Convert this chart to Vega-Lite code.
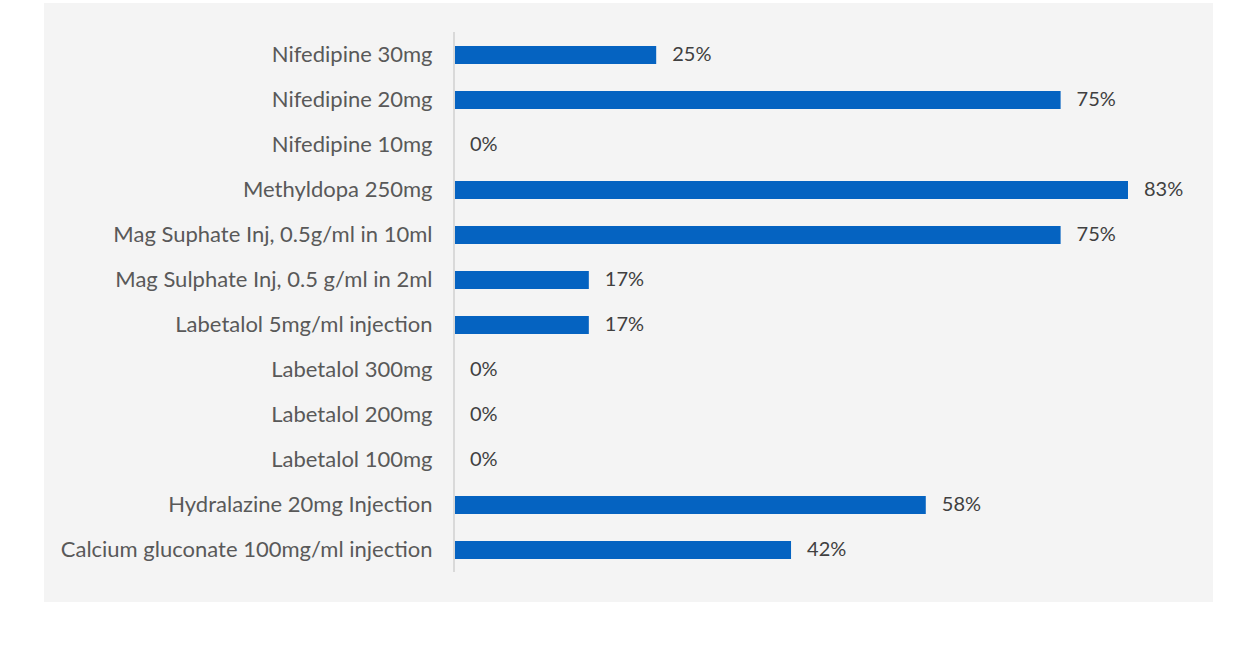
{
  "$schema": "https://vega.github.io/schema/vega-lite/v6.json",
  "autosize": "none",
  "width": 1169,
  "height": 599,
  "padding": {"left": 44, "top": 3, "right": 37, "bottom": 60},
  "background": "#ffffff",
  "config": {
    "view": {"fill": "#f4f4f4", "stroke": null},
    "font": "Lato"
  },
  "data": {
    "values": [
      {"drug": "Nifedipine 30mg", "value": 0.25},
      {"drug": "Nifedipine 20mg", "value": 0.75},
      {"drug": "Nifedipine 10mg", "value": 0},
      {"drug": "Methyldopa 250mg", "value": 0.8333},
      {"drug": "Mag Suphate Inj, 0.5g/ml in 10ml", "value": 0.75},
      {"drug": "Mag Sulphate Inj, 0.5 g/ml in 2ml", "value": 0.1667},
      {"drug": "Labetalol 5mg/ml injection", "value": 0.1667},
      {"drug": "Labetalol 300mg", "value": 0},
      {"drug": "Labetalol 200mg", "value": 0},
      {"drug": "Labetalol 100mg", "value": 0},
      {"drug": "Hydralazine 20mg Injection", "value": 0.5833},
      {"drug": "Calcium gluconate 100mg/ml injection", "value": 0.4167}
    ]
  },
  "encoding": {
    "y": {
      "field": "drug",
      "type": "nominal",
      "sort": null,
      "scale": {"paddingInner": 0.6, "paddingOuter": 0.956},
      "axis": {
        "title": null,
        "orient": "left",
        "offset": -410,
        "domain": false,
        "ticks": false,
        "labelPadding": 22,
        "labelFontSize": 22,
        "labelColor": "#595959",
        "labelFont": "Lato",
        "labelLimit": 600
      }
    }
  },
  "layer": [
    {
      "mark": {"type": "bar", "color": "#0563c1"},
      "encoding": {
        "x": {
          "field": "value",
          "type": "quantitative",
          "scale": {"domain": [-0.5069, 0.9384], "zero": false, "nice": false},
          "axis": null
        }
      }
    },
    {
      "mark": {"type": "text", "align": "left", "baseline": "middle", "dx": 16, "fontSize": 20, "color": "#404040", "font": "Lato"},
      "encoding": {
        "x": {"field": "value", "type": "quantitative"},
        "text": {"field": "value", "type": "quantitative", "format": ".0%"}
      }
    },
    {
      "data": {"values": [{"x": 0, "top": "Nifedipine 30mg", "bottom": "Calcium gluconate 100mg/ml injection"}]},
      "mark": {"type": "rule", "color": "#d9d9d9", "strokeWidth": 2, "yOffset": -23, "y2Offset": 22},
      "encoding": {
        "x": {"field": "x", "type": "quantitative"},
        "y": {"field": "top", "type": "nominal"},
        "y2": {"field": "bottom"}
      }
    }
  ]
}
